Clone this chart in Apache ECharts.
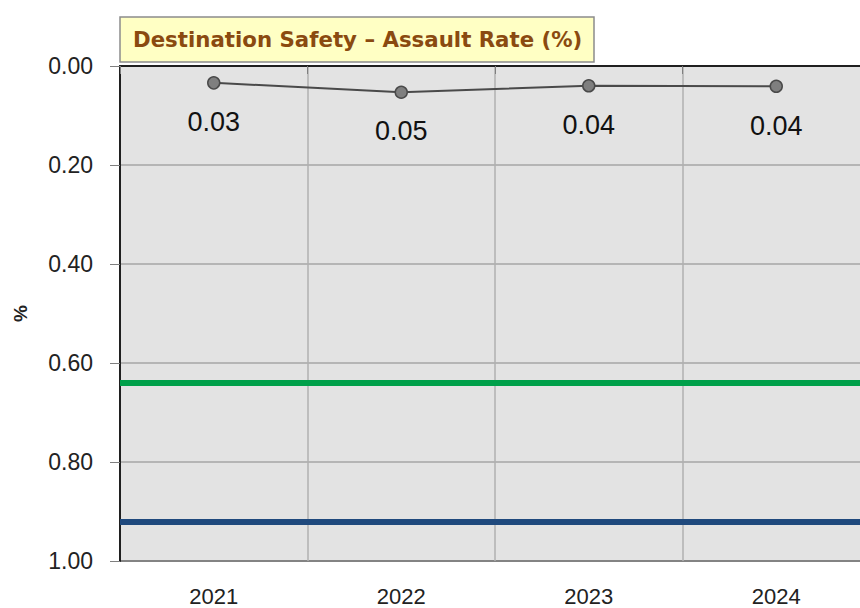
<!DOCTYPE html>
<html>
<head>
<meta charset="utf-8">
<script src="https://cdn.jsdelivr.net/npm/echarts@6/dist/echarts.min.js"></script>
<style>
  html, body { margin: 0; padding: 0; background: #fff; }
  #chart { width: 860px; height: 608px; }
</style>
</head>
<body>
<div id="chart"></div>
<script>
// data
const years = ['2021', '2022', '2023', '2024']
const assaultRate = [0.034, 0.053, 0.040, 0.041]
const greenLevel = 0.64
const blueLevel = 0.92
const yTicks = [0, 0.2, 0.4, 0.6, 0.8, 1.0]

const font = 'Liberation Sans'
const chart = echarts.init(document.getElementById('chart'), null, {renderer: 'svg'})

const option = {
    animation: false,
    title: {
        text: 'Destination Safety \u2013 Assault Rate (%)',
        left: 120,
        top: 17,
        padding: [11, 12, 11, 13],
        backgroundColor: '#ffffc4',
        borderColor: '#8c8c8c',
        borderWidth: 1.5,
        textStyle: {
            fontFamily: 'DejaVu Sans',
            fontWeight: 'bold',
            fontSize: 21.3,
            lineHeight: 23,
            color: '#8a4a10'
        }
    },
    grid: {
        left: 120,
        top: 66,
        width: 750,
        height: 495,
        outerBoundsMode: 'none',
        containLabel: false,
        show: true,
        backgroundColor: '#e3e3e3',
        borderColor: '#1f1f1f',
        borderWidth: 2
    },
    xAxis: {
        type: 'category',
        data: years,
        boundaryGap: true,
        axisLine: {lineStyle: {color: '#1f1f1f', width: 2}},
        axisTick: {show: true, length: 8, lineStyle: {color: '#7f7f7f'}},
        axisLabel: {
            margin: 24,
            fontFamily: "'Liberation Sans Narrow', 'Liberation Sans'",
            fontSize: 22,
            lineHeight: 22,
            color: '#222'
        },
        splitLine: {show: true, lineStyle: {color: '#b0b0b0', width: 1.5}}
    },
    yAxis: {
        type: 'value',
        inverse: true,
        min: yTicks[0],
        max: yTicks[yTicks.length - 1],
        interval: 0.2,
        name: '%',
        nameLocation: 'middle',
        nameGap: 90,
        nameRotate: 90,
        nameTextStyle: {
            fontFamily: font,
            fontWeight: 'bold',
            fontSize: 19,
            color: '#222'
        },
        axisLine: {show: true, lineStyle: {color: '#1f1f1f', width: 2}},
        axisTick: {show: true, length: 10, lineStyle: {color: '#7f7f7f'}},
        axisLabel: {
            margin: 27,
            fontFamily: font,
            fontSize: 23,
            color: '#222',
            formatter: v => v.toFixed(2)
        },
        splitLine: {show: true, lineStyle: {color: '#a6a6a6', width: 1.5}}
    },
    series: [
        {
            name: 'Assault Rate',
            type: 'line',
            data: assaultRate,
            symbol: 'circle',
            symbolSize: 12,
            lineStyle: {color: '#4a4a4a', width: 2},
            itemStyle: {color: '#7f7f7f', borderColor: '#4a4a4a', borderWidth: 1.5},
            label: {
                show: true,
                position: 'bottom',
                distance: 19,
                fontFamily: font,
                fontSize: 27,
                color: '#111',
                formatter: p => p.value.toFixed(2)
            },
            markLine: {
                silent: true,
                symbol: 'none',
                label: {show: false},
                data: [
                    {yAxis: greenLevel, lineStyle: {color: '#00a04a', width: 6, type: 'solid'}},
                    {yAxis: blueLevel, lineStyle: {color: '#1f497d', width: 6, type: 'solid'}}
                ]
            },
            z: 5
        }
    ]
}

chart.setOption(option)
</script>
</body>
</html>
